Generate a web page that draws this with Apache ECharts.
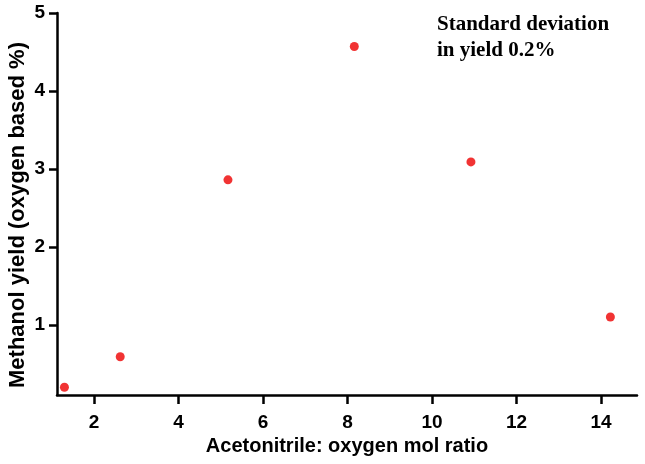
<!DOCTYPE html>
<html><head><meta charset="utf-8">
<script src="https://cdn.jsdelivr.net/npm/echarts@6/dist/echarts.min.js"></script>
<style>html,body{margin:0;padding:0;background:#fff}#c{width:645px;height:464px}</style>
</head><body><div id="c"></div>
<script>
const ratio = [1.3, 2.62, 5.17, 8.16, 10.92, 14.22];
const yieldPct = [0.2, 0.59, 2.86, 4.57, 3.09, 1.1];
const xTicks = [2, 4, 6, 8, 10, 12, 14];
const yTicks = [1, 2, 3, 4, 5];
const note = ['Standard deviation', 'in yield 0.2%'];
const yName = 'Methanol yield (oxygen based %)';

const chart = echarts.init(document.getElementById('c'));
const lab = {color:'#000', fontWeight:'bold', fontSize:19, fontFamily:'Liberation Sans Narrow, Liberation Sans, Arial'};
chart.setOption({
  animation:false,
  grid:{left:57, right:8, top:13, bottom:69, containLabel:false, outerBoundsMode:'none'},
  xAxis:{type:'value', min:1.124, max:14.85,
    name:'Acetonitrile: oxygen mol ratio', nameLocation:'middle', nameGap:40,
    nameTextStyle:{color:'#000', fontWeight:'bold', fontSize:20, fontFamily:'Liberation Sans, Arial'},
    axisLine:{lineStyle:{color:'#000', width:2.5}},
    axisTick:{show:true, inside:false, length:9, lineStyle:{color:'#000', width:2.5}, customValues:xTicks},
    axisLabel:Object.assign({margin:18, customValues:xTicks}, lab),
    splitLine:{show:false}},
  yAxis:{type:'value', min:0.1, max:5,
    axisLine:{show:true, lineStyle:{color:'#000', width:2.5}},
    axisTick:{show:true, inside:false, length:8, lineStyle:{color:'#000', width:2.5}, customValues:yTicks},
    axisLabel:Object.assign({margin:12, customValues:yTicks}, lab),
    splitLine:{show:false}},
  graphic:[
    {type:'text', left:437, top:12, style:{text:note.join('\n'), fill:'#000',
      font:'bold 21px "Liberation Serif", "Times New Roman", serif', lineHeight:26}},
    {type:'text', x:18, y:215, rotation:Math.PI/2, style:{text:yName, fill:'#000',
      font:'bold 22px "Liberation Sans", Arial, sans-serif', align:'center', verticalAlign:'middle'}}
  ],
  series:[{type:'scatter', symbolSize:9, itemStyle:{color:'#ee0000'},
    data:ratio.map((x,i)=>[x, yieldPct[i]])}]
});
</script></body></html>
